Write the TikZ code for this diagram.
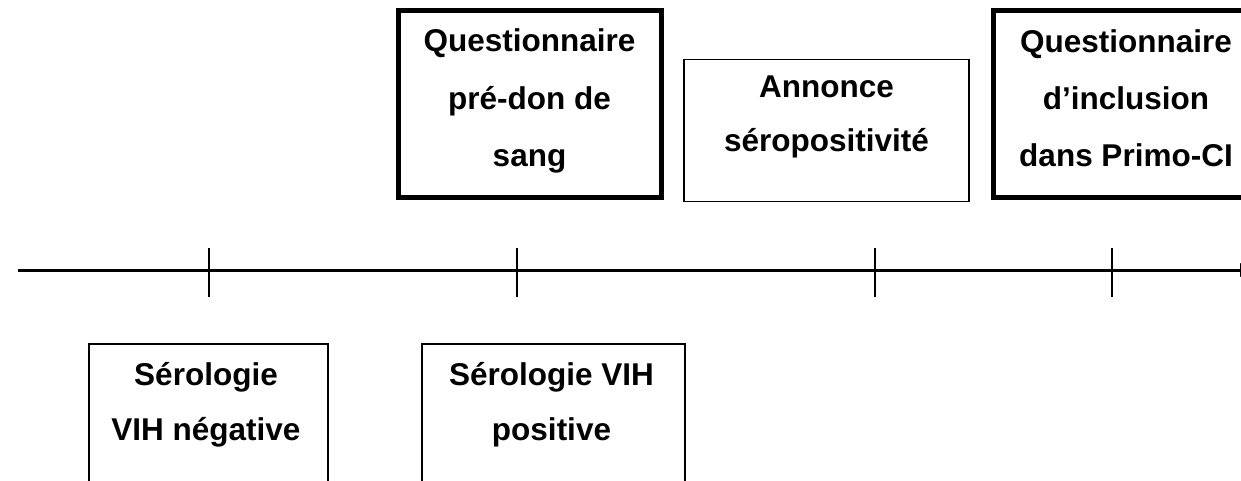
\documentclass[tikz,border=0pt]{standalone}
\usepackage{fontspec}
\setmainfont{Liberation Sans}
\usetikzlibrary{arrows.meta}
\begin{document}
\begin{tikzpicture}[x=1pt,y=-1pt,
  thickbox/.style={draw=black,line width=5pt,rectangle,inner sep=0pt,outer sep=0pt},
  thinbox/.style={draw=black,line width=1.8pt,rectangle,inner sep=0pt,outer sep=0pt},
  lbl/.style={font=\fontsize{31.5}{37}\selectfont\bfseries,anchor=base,inner sep=0pt},
  tickline/.style={line width=2pt},
  axis/.style={line width=3pt}]
\useasboundingbox (0,0) rectangle (1241,481);
\clip (0,0) rectangle (1241,481);
% boxes
\node[thickbox,minimum width=263pt,minimum height=186pt] (qpre) at (529.5,104) {};
\node[thinbox,minimum width=285pt,minimum height=142pt] (ann) at (826.5,130.5) {};
\node[thickbox,minimum width=266pt,minimum height=186pt] (qinc) at (1126,104) {};
\node[thinbox,minimum width=239pt,minimum height=200pt] (neg) at (208.5,444) {};
\node[thinbox,minimum width=263pt,minimum height=200pt] (pos) at (553.5,444) {};
% texts
\node[lbl] (qpre1) at (529.5,52) {Questionnaire};
\node[lbl] (qpre2) at (529.5,110) {pré-don de};
\node[lbl] (qpre3) at (529.5,167) {sang};
\node[lbl] (ann1) at (826.5,98) {Annonce};
\node[lbl] (ann2) at (826.5,152) {séropositivité};
\node[lbl] (qinc1) at (1126,53) {Questionnaire};
\node[lbl] (qinc2) at (1126,110) {d’inclusion};
\node[lbl] (qinc3) at (1126,167) {dans Primo-CI};
\node[lbl] (neg1) at (206,385) {Sérologie};
\node[lbl] (neg2) at (206,440) {VIH négative};
\node[lbl] (pos1) at (551.5,385) {Sérologie VIH};
\node[lbl] (pos2) at (551.5,440) {positive};
% timeline
\coordinate (tl0) at (18,270);
\coordinate (tl1) at (1252,270);
\draw[axis,-{Triangle[length=12pt,width=13pt]}] (tl0) -- (tl1);
\foreach \n/\x in {a/209,b/517,c/875,d/1112}{
  \coordinate (t\n top) at (\x,248);
  \coordinate (t\n bot) at (\x,297);
  \draw[tickline] (t\n top) -- (t\n bot);
}
\end{tikzpicture}
\end{document}
